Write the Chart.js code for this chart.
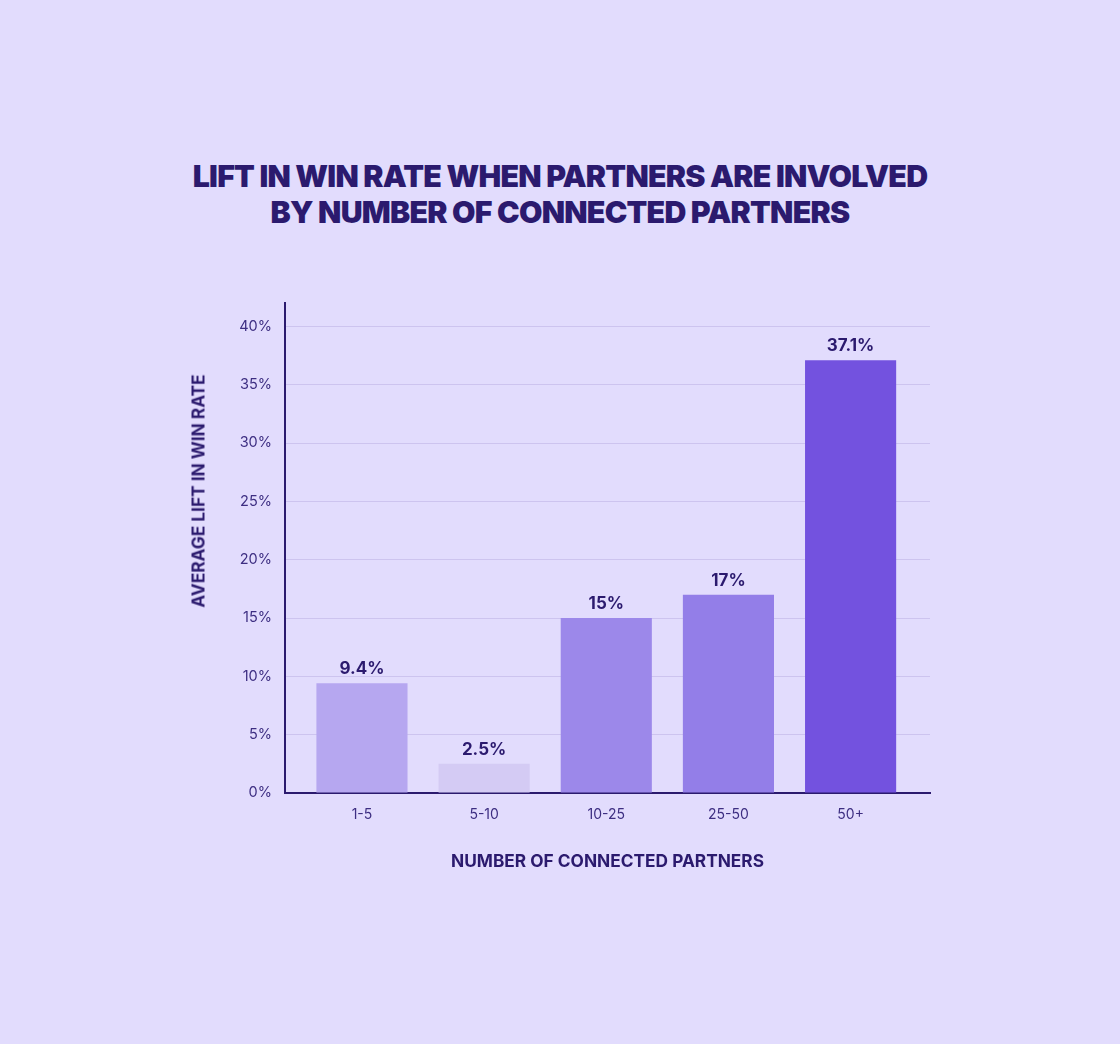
<!DOCTYPE html>
<html>
<head>
<meta charset="utf-8">
<script src="https://cdn.jsdelivr.net/npm/chart.js@4.4.1/dist/chart.umd.min.js"></script>
<style>
    html, body {
        margin: 0;
        padding: 0;
        background: #e2dcfd;
        width: 1120px;
        height: 1044px;
        overflow: hidden;
        font-family: Inter, sans-serif;
    }
    #title {
        position: absolute;
        left: 0;
        top: 158px;
        width: 1120px;
        text-align: center;
        color: #2b1a6e;
        font-size: 30.3px;
        font-weight: 900;
        line-height: 36px;
        letter-spacing: -0.75px;
        margin: 0;
    }
    #y-title {
        position: absolute;
        left: 198px;
        top: 491px;
        transform: translate(-50%, -50%) rotate(-90deg);
        white-space: nowrap;
        color: #2b1a6e;
        font-size: 17.3px;
        font-weight: 700;
    }
    #chart-wrap {
        position: absolute;
        left: 0;
        top: 0;
        width: 1120px;
        height: 1044px;
    }
</style>
</head>
<body>
<h1 id="title">LIFT IN WIN RATE WHEN PARTNERS ARE INVOLVED<br>BY NUMBER OF CONNECTED PARTNERS</h1>
<div id="chart-wrap"><canvas id="chart-canvas"></canvas></div>
<div id="y-title">AVERAGE LIFT IN WIN RATE</div>
<script>
const categories = ['1-5', '5-10', '10-25', '25-50', '50+'];
const liftValues = [9.4, 2.5, 15, 17, 37.1];
const valueLabels = ['9.4%', '2.5%', '15%', '17%', '37.1%'];
const barColors = ['#b6a7f0', '#d4cbf4', '#9c88ea', '#937ee8', '#7352df'];
const yTicks = [0, 5, 10, 15, 20, 25, 30, 35, 40];

const darkText = '#2b1a6e';
const tickText = '#3d2e82';

// value labels above bars
const barLabels = {
    id: 'barLabels',
    afterDatasetsDraw(chart) {
        const ctx = chart.ctx;
        const meta = chart.getDatasetMeta(0);

        ctx.save();
        ctx.font = '700 17px Inter, sans-serif';
        ctx.fillStyle = darkText;
        ctx.textAlign = 'center';
        ctx.textBaseline = 'alphabetic';
        meta.data.forEach((bar, i) => {
            const p = bar.getProps(['x', 'y'], true);
            ctx.fillText(valueLabels[i], p.x, p.y - 9);
        });
        ctx.restore();
    }
};

const ctx = document.getElementById('chart-canvas').getContext('2d');

new Chart(ctx, {
    type: 'bar',
    data: {
        datasets: [{
            data: liftValues.map((v, i) => ({ x: i, y: v })),
            backgroundColor: barColors,
            borderWidth: 0,
            categoryPercentage: 1,
            barPercentage: 0.746
        }]
    },
    options: {
        responsive: true,
        maintainAspectRatio: false,
        animation: false,
        layout: {
            padding: { left: 180, top: 303, right: 190, bottom: 161 }
        },
        plugins: {
            legend: { display: false },
            tooltip: { enabled: false }
        },
        scales: {
            x: {
                type: 'linear',
                offset: false,
                min: -0.63,
                max: 4.65,
                afterBuildTicks: scale => {
                    scale.ticks = categories.map((c, i) => ({ value: i }));
                },
                afterFit: scale => { scale.height = 90; },
                grid: { display: false, drawTicks: false },
                border: { color: darkText, width: 2 },
                ticks: {
                    padding: 13,
                    color: tickText,
                    font: { family: 'Inter', size: 14 },
                    callback: (v) => categories[v]
                },
                title: {
                    display: true,
                    text: 'NUMBER OF CONNECTED PARTNERS',
                    color: darkText,
                    font: { family: 'Inter', size: 17.3, weight: '700' },
                    padding: { top: 0, bottom: 11 }
                }
            },
            y: {
                min: 0,
                max: 42,
                afterBuildTicks: scale => {
                    scale.ticks = yTicks.map(v => ({ value: v }));
                },
                afterFit: scale => { scale.width = 105; },
                grid: { color: '#cdc4ef', lineWidth: 1, drawTicks: false },
                border: { color: darkText, width: 2 },
                ticks: {
                    padding: 13,
                    color: tickText,
                    font: { family: 'Inter', size: 14.5 },
                    callback: v => v + '%'
                }
            }
        }
    },
    plugins: [barLabels]
});
</script>
</body>
</html>
